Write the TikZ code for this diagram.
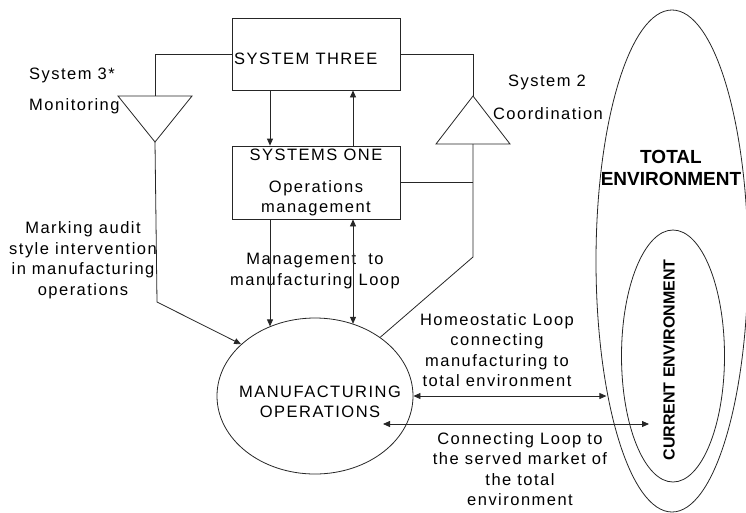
\documentclass[tikz,border=0pt]{standalone}
\usepackage{fontspec}
\setmainfont{Liberation Sans}[LetterSpace=9]
\usetikzlibrary{arrows.meta, positioning, shapes.geometric}

\begin{document}
\begin{tikzpicture}[
      x=1pt, y=-1pt,
      font=\fontsize{16.5}{20.5}\selectfont,
      link/.style={draw=black!85, line width=0.8pt},
      sysbox/.style={link, align=center, minimum width=168pt, minimum height=72pt, inner sep=0pt},
      env/.style={link, ellipse, inner sep=0pt},
      arrowto/.style={link, -{Triangle[length=7pt, width=6pt]}},
      both/.style={link, {Triangle[length=7pt, width=6pt]}-{Triangle[length=7pt, width=6pt]}},
      lbl/.style={align=center, inner sep=0pt},
      bigbold/.style={font=\bfseries\fontsize{19}{22}\selectfont\addfontfeature{LetterSpace=0}}
    ]
    \useasboundingbox (0,0) rectangle (746,512);
    \node[sysbox] (sys3) at (316,54) {};
    \node[lbl, anchor=west] (sys3lbl) at (234,59) {SYSTEM THREE};
    \node[sysbox, minimum height=73pt] (sys1) at (316,182.5)
    {SYSTEMS ONE\\[11pt]Operations\\management};
    \node[env, minimum width=196pt, minimum height=156pt] (mfg) at (315,396) {};
    \node[lbl] (mfglbl) at (320,402) {MANUFACTURING\\OPERATIONS};
    \node[env, minimum width=152pt, minimum height=502pt] (totenv) at (672,261) {};
    \node[env, minimum width=103pt, minimum height=252pt] (curenv) at (673,356) {};
    \node[lbl, bigbold] (totlbl) at (671,168) {TOTAL\\ENVIRONMENT};
    \node[lbl, rotate=90, font=\bfseries\fontsize{16}{19}\selectfont\addfontfeature{LetterSpace=0}]
    (curlbl) at (669,360) {CURRENT ENVIRONMENT};

    \draw[link] (118,96) -- (192,96) -- (155,142) -- cycle;
    \draw[link] (436,144) -- (510,144) -- (473,96) -- cycle;
    \coordinate (montop) at (155,96);
    \coordinate (monbot) at (155,142);
    \coordinate (monkink) at (157,302);
    \coordinate (coortop) at (473,96);
    \coordinate (coorbot) at (473,144);
    \coordinate (coorkink) at (473,257);
    \coordinate (conin) at (383,424);
    \coordinate (conout) at (649,424);

    \node[lbl, anchor=west] (s3lbl) at (29,75) {System 3*};
    \node[lbl, anchor=west] (monlbl) at (29,106) {Monitoring};
    \node[lbl] (s2lbl) at (547,82) {System 2};
    \node[lbl] (coorlbl) at (548,114) {Coordination};
    \node[lbl] (marklbl) at (83,260)
    {Marking audit\\style intervention\\in manufacturing\\operations};
    \node[lbl] (mgmtlbl) at (315,271) {Management~~to\\manufacturing Loop};
    \node[lbl] (homlbl) at (497,350)
    {Homeostatic Loop\\connecting\\manufacturing to\\total environment};
    \node[lbl] (conlbl) at (520,469)
    {Connecting Loop to\\the served market of\\the total\\environment};

    \draw[link] (sys3.west) -| (montop);
    \draw[link] (sys3.east) -| (coortop);
    \draw[arrowto] (monbot) -- (monkink) -- (mfg.145);
    \draw[link] (coorbot) -- (coorkink) -- (mfg.42);
    \draw[link] (sys1.east) -- (sys1.east -| coorbot);
    \draw[arrowto] ([xshift=-46pt]sys3.south) -- ([xshift=-46pt]sys1.north);
    \draw[arrowto] ([xshift=37pt]sys1.north) -- ([xshift=37pt]sys3.south);
    \draw[arrowto] ([xshift=-46pt]sys1.south) -- ([xshift=-46pt]sys1.south |- mfg.123);
    \draw[both] ([xshift=37pt]sys1.south) -- ([xshift=37pt]sys1.south |- mfg.62);
    \draw[both] (mfg.east) -- (mfg.east -| totenv.243);
    \draw[both] (conin) -- (conout);
  \end{tikzpicture}
\end{document}
